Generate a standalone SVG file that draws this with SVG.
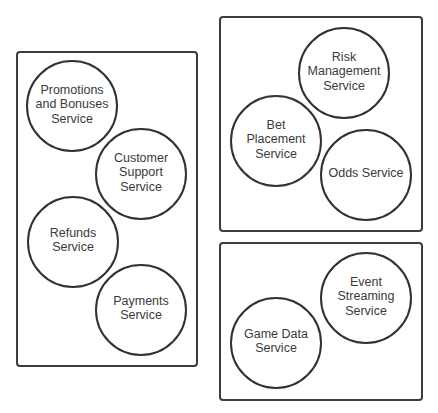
<svg xmlns="http://www.w3.org/2000/svg" width="438" height="413" viewBox="0 0 438 413">
<style>
.box{fill:#fff;stroke:#3a3d42;stroke-width:2}
.svc{fill:#fff;stroke:#2f3237;stroke-width:2}
text{font-family:"Liberation Sans",Arial,sans-serif;font-size:12.5px;fill:#3a3a3a;text-anchor:middle}
</style>
<rect width="438" height="413" fill="#fff"/>
<g id="group-left"><rect class="box" x="17" y="52" width="180" height="314" rx="3"/></g>
<g id="group-betting"><rect class="box" x="220" y="17" width="202" height="214" rx="3"/></g>
<g id="group-data"><rect class="box" x="220" y="243" width="202" height="157" rx="3"/></g>
<g id="connectors"></g>
<g id="promotions"><circle class="svc" cx="72" cy="106" r="45"/>
<text x="72" y="93.5">Promotions</text><text x="72" y="108">and Bonuses</text><text x="72" y="122.5">Service</text></g>
<g id="customer-support"><circle class="svc" cx="141" cy="174" r="45"/>
<text x="141" y="161.5">Customer</text><text x="141" y="176">Support</text><text x="141" y="190.5">Service</text></g>
<g id="refunds"><circle class="svc" cx="73" cy="242" r="45"/>
<text x="73" y="236.5">Refunds</text><text x="73" y="251">Service</text></g>
<g id="payments"><circle class="svc" cx="141" cy="310" r="45"/>
<text x="141" y="304.5">Payments</text><text x="141" y="319">Service</text></g>
<g id="risk"><circle class="svc" cx="344" cy="73" r="45"/>
<text x="344" y="60.5">Risk</text><text x="344" y="75">Management</text><text x="344" y="89.5">Service</text></g>
<g id="bet-placement"><circle class="svc" cx="276" cy="141" r="45"/>
<text x="276" y="128.5">Bet</text><text x="276" y="143">Placement</text><text x="276" y="157.5">Service</text></g>
<g id="odds"><circle class="svc" cx="366" cy="175" r="45"/>
<text x="366" y="177">Odds Service</text></g>
<g id="event-streaming"><circle class="svc" cx="366" cy="298" r="45"/>
<text x="366" y="285.5">Event</text><text x="366" y="300">Streaming</text><text x="366" y="314.5">Service</text></g>
<g id="game-data"><circle class="svc" cx="276" cy="343" r="45"/>
<text x="276" y="337.5">Game Data</text><text x="276" y="352">Service</text></g>
</svg>
